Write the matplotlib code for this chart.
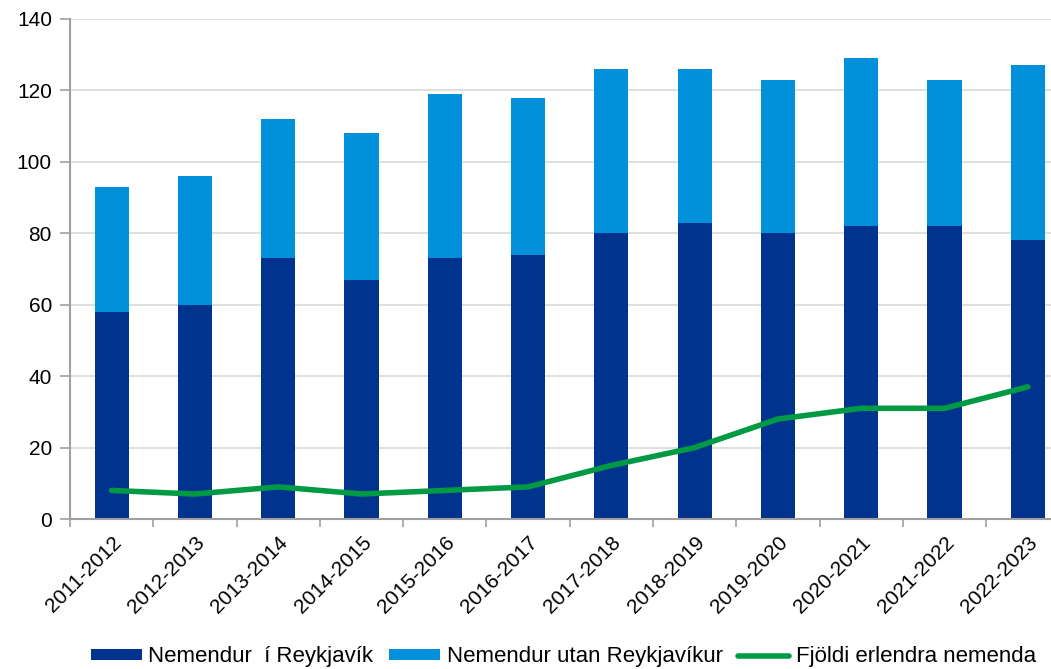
import numpy as np
import matplotlib.pyplot as plt

plt.rcParams['font.family'] = ['Liberation Sans', 'DejaVu Sans']

# skolaar
years = ['2011-2012', '2012-2013', '2013-2014', '2014-2015', '2015-2016', '2016-2017',
         '2017-2018', '2018-2019', '2019-2020', '2020-2021', '2021-2022', '2022-2023']
# nemendur i Reykjavik
rvk = [58, 60, 73, 67, 73, 74, 80, 83, 80, 82, 82, 78]
# samtals nemendur
total = [93, 96, 112, 108, 119, 118, 126, 126, 123, 129, 123, 127]
# erlendir nemendur
foreign = [8, 7, 9, 7, 8, 9, 15, 20, 28, 31, 31, 37]

utan = [t - r for t, r in zip(total, rvk)]
x = np.arange(len(years))

fig = plt.figure(figsize=(10.51, 6.69), dpi=100)
# the plot area runs past the right edge like in the original
ax = fig.add_axes([0.0666, 0.2242, 0.951, 0.7474])

b1 = ax.bar(x, rvk, width=0.41, color='#00338d', zorder=2)
b2 = ax.bar(x, utan, bottom=rvk, width=0.41, color='#0091da', zorder=2)
l1, = ax.plot(x, foreign, color='#009a44', lw=4, solid_capstyle='round', zorder=3)

ax.set_xlim(-0.5, len(years) - 0.5)
ax.set_ylim(0, 140)
ax.set_yticks(range(0, 141, 20))
ax.yaxis.grid(True, color='#d9d9d9', lw=1.2, zorder=0)
ax.set_axisbelow(True)

ax.set_xticks(x)
ax.set_xticklabels(years, rotation=45, ha='right', va='top', rotation_mode='anchor', fontsize=15)
ax.set_xticks(np.arange(-0.5, len(years)), minor=True)
ax.tick_params(axis='x', which='major', length=0, pad=10)
ax.tick_params(axis='x', which='minor', length=6, color='#a0a0a0', width=1.2)
ax.tick_params(axis='y', length=7, color='#a0a0a0', width=1.2, labelsize=15, pad=6)

for s in ['top', 'right']:
    ax.spines[s].set_visible(False)
for s in ['left', 'bottom']:
    ax.spines[s].set_color('#a0a0a0')
    ax.spines[s].set_linewidth(1.5)

ax.legend([b1, b2, l1], ['Nemendur  í Reykjavík', 'Nemendur utan Reykjavíkur', 'Fjöldi erlendra nemenda'],
          loc='center', bbox_to_anchor=(0.536, 0.018), bbox_transform=fig.transFigure, ncol=3, frameon=False,
          fontsize=16, handlelength=2.3, handleheight=0.42, columnspacing=0.7, handletextpad=0.3)

fig.savefig('out.png', dpi=100)
